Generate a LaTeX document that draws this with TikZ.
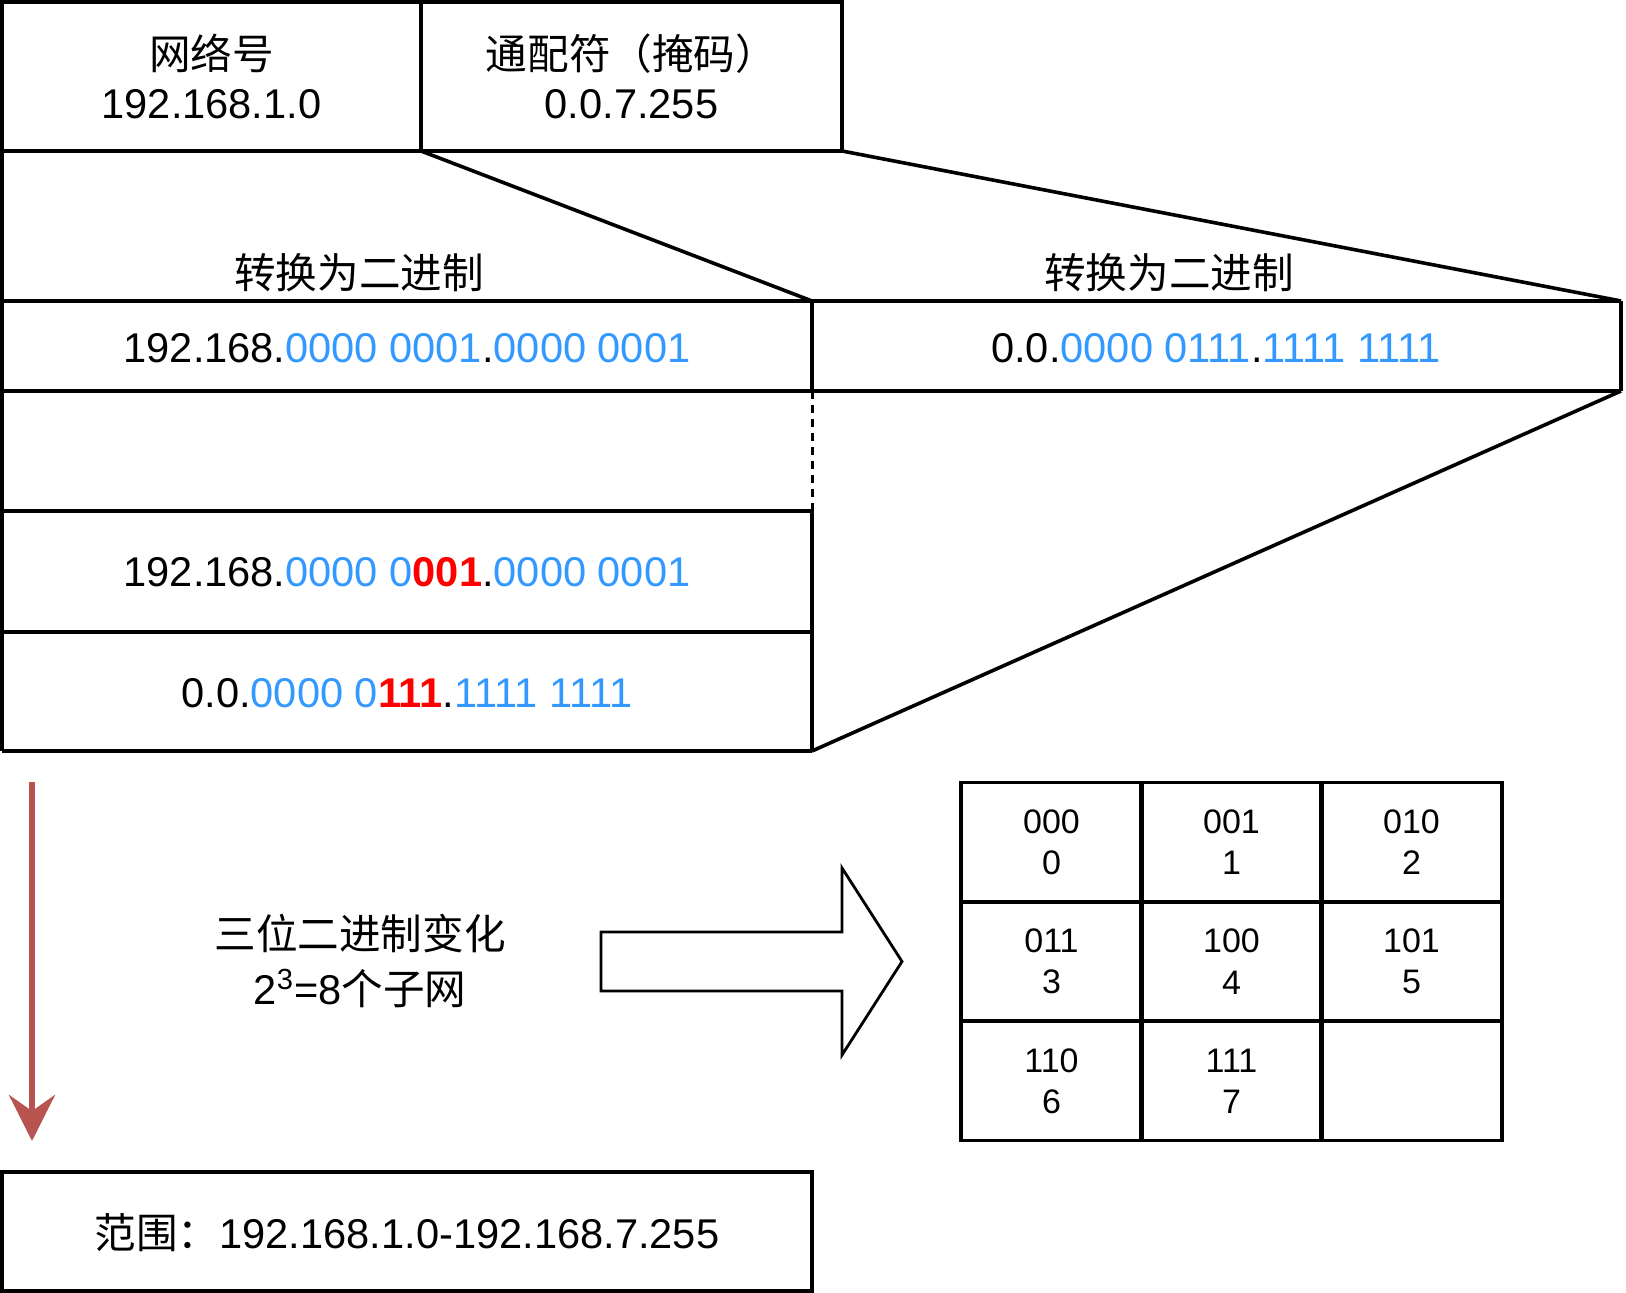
\documentclass[tikz,border=0pt]{standalone}
\usepackage{fontspec}
\setmainfont{Liberation Sans}
\newfontfamily\cjk{Noto Sans CJK SC}
\usetikzlibrary{arrows.meta}
\definecolor{binblue}{RGB}{51,153,255}
\definecolor{bitred}{RGB}{255,0,0}
\definecolor{flowred}{RGB}{184,84,80}
\newcommand{\bb}[1]{\textcolor{binblue}{#1}}
\newcommand{\rb}[1]{\textcolor{bitred}{\bfseries #1}}

\begin{document}
\begin{tikzpicture}[x=0.5pt, y=-0.5pt,
    frame/.style={line width=1.8pt},
    txt/.style={align=center, inner sep=0pt, font=\fontsize{20.8}{24.4}\selectfont},
    cell/.style={draw, line width=1.8pt, minimum width=90.5pt, minimum height=59.5pt,
                 align=center, font=\fontsize{17}{20.7}\selectfont}]
                \useasboundingbox (0,0) rectangle (1626,1293);
                % top boxes
                \draw[frame] (2,2) rectangle (421,151);
                \draw[frame] (421,2) rectangle (842,151);
                \node[txt] (net) at (211.5,76.5) {{\cjk 网络号}\\192.168.1.0};
                \node[txt] (wild) at (631.5,76.5) {{\cjk 通配符（掩码）}\\0.0.7.255};
                % expansion
                \draw[frame] (421,151) -- (812,301);
                \draw[frame] (842,151) -- (1621,301);
                \node[txt] (conv1) at (359,273) {\cjk 转换为二进制};
                \node[txt] (conv2) at (1169,273) {\cjk 转换为二进制};
                \draw[frame] (2,151) -- (2,751);
                \draw[frame] (2,301) -- (1621,301);
                \draw[frame] (2,391) -- (1621,391);
                \draw[frame] (2,511) -- (812,511);
                \draw[frame] (2,632) -- (812,632);
                \draw[frame] (2,751) -- (812,751);
                \draw[frame] (812,301) -- (812,391);
                \draw[line width=1.5pt, dash pattern=on 4pt off 3pt] (812,391) -- (812,511);
                \draw[frame] (812,511) -- (812,751);
                \draw[frame] (1621,301) -- (1621,391);
                \draw[frame] (1621,391) -- (812,751);
                \node[txt] (bin1) at (407,348) {192.168.\bb{0000 0001}.\bb{0000 0001}};
                \node[txt] (bin2) at (1216,348) {0.0.\bb{0000 0111}.\bb{1111 1111}};
                \node[txt] (sub1) at (407,572) {192.168.\bb{0000 0}\rb{001}.\bb{0000 0001}};
                \node[txt] (sub2) at (407,693) {0.0.\bb{0000 0}\rb{111}.\bb{1111 1111}};
                % change
                \coordinate (top) at (32,782);
                \coordinate (tip) at (32,1141);
                \draw[flowred, line width=3pt,
                      -{Stealth[length=23pt, width=23pt, inset=8pt]}] (top) -- (tip);
                \node[txt] (change) at (360,961) {{\cjk 三位二进制变化}\\[3pt]2\textsuperscript{3}=8{\cjk 个子网}};
                \draw[line width=1.4pt] (601,932) -- (842,932) -- (842,868) -- (902,961.5)
                    -- (842,1055) -- (842,991) -- (601,991) -- cycle;
                % subnets
                \node[cell] (s0) at (1051.5,842) {000\\0};
                \node[cell] (s1) at (1231.5,842) {001\\1};
                \node[cell] (s2) at (1411.5,842) {010\\2};
                \node[cell] (s3) at (1051.5,961.5) {011\\3};
                \node[cell] (s4) at (1231.5,961.5) {100\\4};
                \node[cell] (s5) at (1411.5,961.5) {101\\5};
                \node[cell] (s6) at (1051.5,1081) {110\\6};
                \node[cell] (s7) at (1231.5,1081) {111\\7};
                \node[cell] (s8) at (1411.5,1081) {};
                % range
                \draw[frame] (2,1172) rectangle (812,1291);
                \node[txt] (range) at (407,1233) {{\cjk 范围：}192.168.1.0-192.168.7.255};
            \end{tikzpicture}
\end{document}
